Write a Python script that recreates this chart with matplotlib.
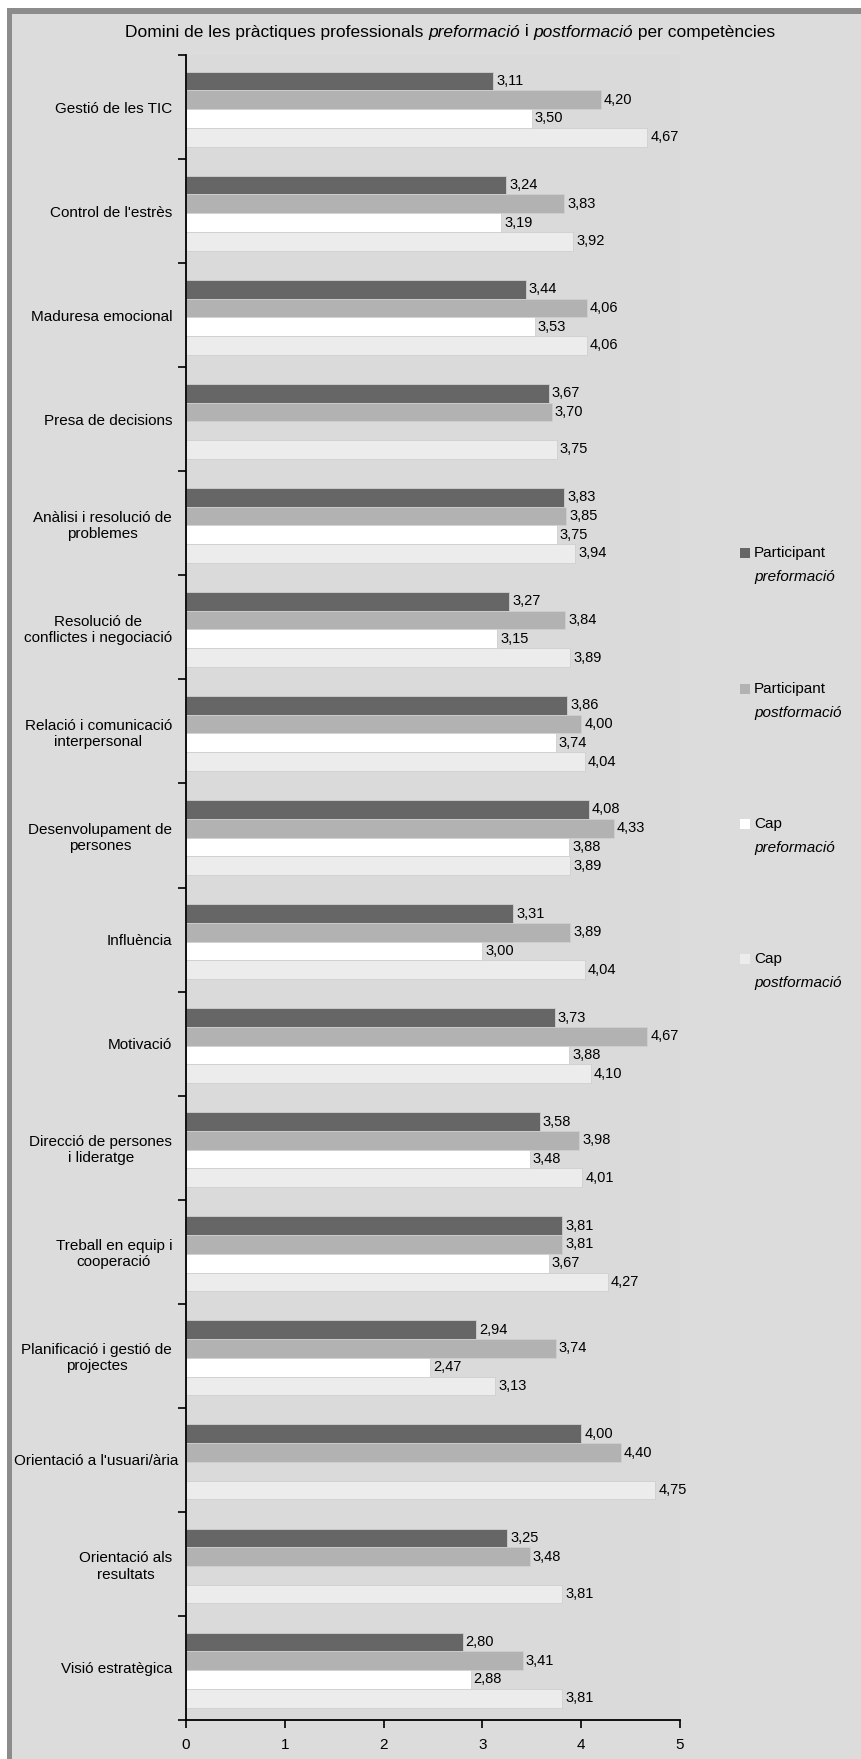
import numpy as np
import matplotlib
matplotlib.use('Agg')
import matplotlib.pyplot as plt
from matplotlib.patches import Rectangle

nan = np.nan

# categories, top to bottom
categories = ["Gestió de les TIC", "Control de l'estrès", "Maduresa emocional",
              "Presa de decisions", "Anàlisi i resolució de\nproblemes",
              "Resolució de\nconflictes i negociació", "Relació i comunicació\ninterpersonal",
              "Desenvolupament de\npersones", "Influència", "Motivació",
              "Direcció de persones\ni lideratge", "Treball en equip i\ncooperació",
              "Planificació i gestió de\nprojectes", "Orientació a l'usuari/ària",
              "Orientació als\nresultats", "Visió estratègica"]

participant_pre = [3.11, 3.24, 3.44, 3.67, 3.83, 3.27, 3.86, 4.08, 3.31, 3.73, 3.58, 3.81, 2.94, 4.00, 3.25, 2.80]
participant_post = [4.20, 3.83, 4.06, 3.70, 3.85, 3.84, 4.00, 4.33, 3.89, 4.67, 3.98, 3.81, 3.74, 4.40, 3.48, 3.41]
cap_pre = [3.50, 3.19, 3.53, nan, 3.75, 3.15, 3.74, 3.88, 3.00, 3.88, 3.48, 3.67, 2.47, nan, nan, 2.88]
cap_post = [4.67, 3.92, 4.06, 3.75, 3.94, 3.89, 4.04, 3.89, 4.04, 4.10, 4.01, 4.27, 3.13, 4.75, 3.81, 3.81]

series = [participant_pre, participant_post, cap_pre, cap_post]
series_first = ["Participant", "Participant", "Cap", "Cap"]
series_second = ["preformació", "postformació", "preformació", "postformació"]
colors = ["#666666", "#b2b2b2", "#ffffff", "#ececec"]

FONT = "Liberation Sans"
W, H = 861, 1759

fig = plt.figure(figsize=(W / 100, H / 100), dpi=100)
fig.patch.set_facecolor("#dcdcdc")

# window-like frame on the left and top
fig.patches.append(Rectangle((0, 0), 7 / W, 1, transform=fig.transFigure,
                             facecolor="white", edgecolor="none"))
fig.patches.append(Rectangle((7 / W, 0), 5 / W, 1 - 8 / H, transform=fig.transFigure,
                             facecolor="#8c8c8c", edgecolor="none"))
fig.patches.append(Rectangle((7 / W, 1 - 14 / H), 1, 6 / H, transform=fig.transFigure,
                             facecolor="#8c8c8c", edgecolor="none"))
fig.patches.append(Rectangle((0, 1 - 8 / H), 1, 8 / H, transform=fig.transFigure,
                             facecolor="white", edgecolor="none"))

ax = fig.add_axes([186 / W, 1 - 1720 / H, (680 - 186) / W, (1720 - 55) / H])
ax.set_facecolor("#dadada")

n = len(categories)
y = np.arange(n)
h = 0.18
offsets = [-1.5 * h, -0.5 * h, 0.5 * h, 1.5 * h]

for vals, col, off in zip(series, colors, offsets):
    vals = np.array(vals)
    ax.barh(y + off + 0.02, vals, height=h, color=col, edgecolor="#cfcfcf", linewidth=0.6)
    for yi, v in zip(y, vals):
        if not np.isnan(v):
            ax.text(v + 0.03, yi + off + 0.02, f"{v:.2f}".replace(".", ","), va="center",
                    ha="left", fontsize=10.5, family=FONT)

ax.set_xlim(0, 5)
ax.set_ylim(n - 0.5, -0.5)
ax.set_xticks(range(6))
ax.set_xticklabels([str(i) for i in range(6)], family=FONT)
ax.tick_params(axis="x", length=6, width=1.2, labelsize=11, pad=7)
ax.set_yticks(y)
ax.set_yticklabels(categories, fontsize=11, family=FONT, multialignment="center")
ax.tick_params(axis="y", length=0, pad=10)
ax.set_yticks(np.arange(-0.5, n, 1), minor=True)
ax.tick_params(axis="y", which="minor", length=6, width=1.2)
for sp in ["top", "right"]:
    ax.spines[sp].set_visible(False)
ax.spines["left"].set_linewidth(1.3)
ax.spines["bottom"].set_linewidth(1.3)

# the long label sits closer to the axis in the original
for lab in ax.get_yticklabels():
    if lab.get_text() == "Orientació a l'usuari/ària":
        lab.set_x(0.012)

# title with italic parts
fig.canvas.draw()
r = fig.canvas.get_renderer()
parts = [("Domini de les pràctiques professionals ", "normal"), ("preformació", "italic"),
         (" i ", "normal"), ("postformació", "italic"), (" per competències", "normal")]
objs = []
for txt, st in parts:
    objs.append(fig.text(0, 1 - 32 / H, txt, fontsize=12.5, style=st, family=FONT,
                         va="center", ha="left"))
widths = [o.get_window_extent(r).width for o in objs]
x0 = 450 - sum(widths) / 2
for o, w in zip(objs, widths):
    o.set_x(x0 / W)
    x0 += w

# legend
leg_y = [553, 689, 824, 959]
for ly, col, a, b in zip(leg_y, colors, series_first, series_second):
    fig.patches.append(Rectangle((740 / W, 1 - (ly + 5) / H), 10 / W, 10 / H,
                                 transform=fig.transFigure, facecolor=col, edgecolor="none"))
    fig.text(754 / W, 1 - ly / H, a, fontsize=11, family=FONT, va="center")
    fig.text(754 / W, 1 - (ly + 24) / H, b, fontsize=11, family=FONT, style="italic",
             va="center")

fig.savefig("out.png", dpi=100, facecolor=fig.get_facecolor())
